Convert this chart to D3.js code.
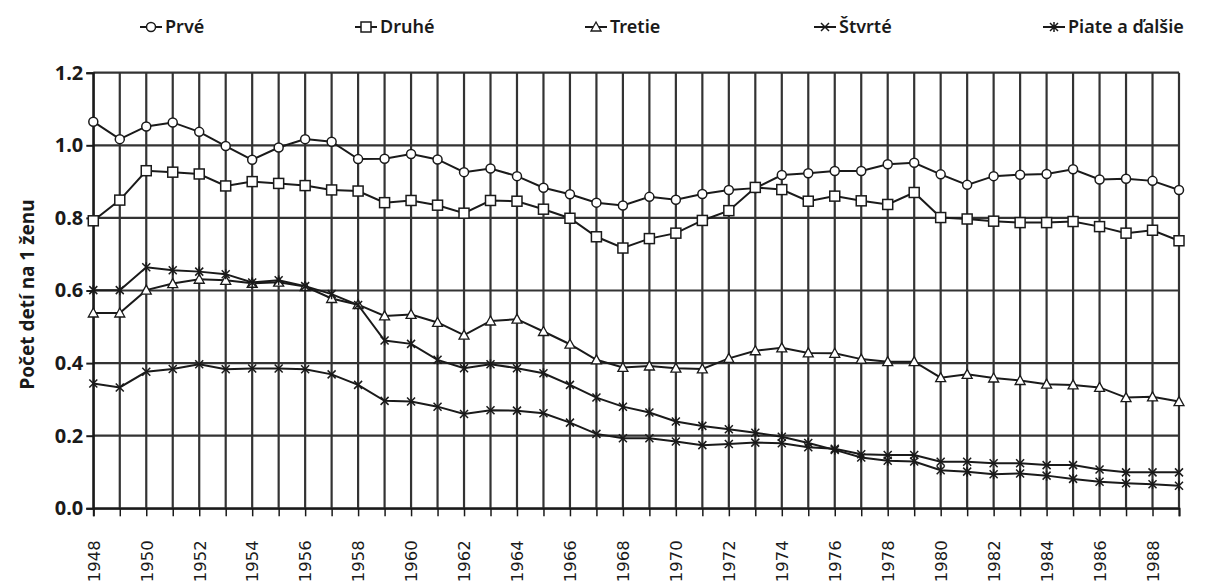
<!DOCTYPE html>
<html lang="sk">
<head>
<meta charset="UTF-8">
<title>Počet detí na 1 ženu</title>
<script src="https://cdn.jsdelivr.net/npm/d3@7/dist/d3.min.js"></script>
<style>
  body { margin: 0; background: #fff; }
  text { font-family: "Noto Sans", "DejaVu Sans", sans-serif; fill: #1a1a1a; }
</style>
</head>
<body>
<div id="chart"></div>
<script>
// roky a hodnoty (odčítané z grafu)
var years = [1948,1949,1950,1951,1952,1953,1954,1955,1956,1957,1958,1959,
             1960,1961,1962,1963,1964,1965,1966,1967,1968,1969,
             1970,1971,1972,1973,1974,1975,1976,1977,1978,1979,
             1980,1981,1982,1983,1984,1985,1986,1987,1988,1989];
var prve = [1.065,1.017,1.052,1.063,1.037,0.998,0.960,0.994,1.017,1.010,0.962,0.963,
            0.976,0.961,0.926,0.936,0.915,0.883,0.865,0.842,0.834,0.858,
            0.850,0.866,0.877,0.882,0.918,0.923,0.929,0.929,0.948,0.952,
            0.920,0.891,0.915,0.919,0.921,0.934,0.906,0.908,0.902,0.877];
var druhe = [0.792,0.849,0.930,0.926,0.921,0.888,0.900,0.895,0.889,0.877,0.874,0.842,
             0.848,0.835,0.813,0.848,0.846,0.824,0.799,0.748,0.717,0.743,
             0.758,0.793,0.820,0.884,0.878,0.846,0.860,0.847,0.837,0.870,
             0.801,0.797,0.791,0.787,0.787,0.790,0.776,0.758,0.766,0.737];
var tretie = [0.538,0.538,0.601,0.619,0.631,0.628,0.620,0.623,0.611,0.578,0.561,0.530,
              0.534,0.512,0.477,0.516,0.521,0.487,0.452,0.409,0.388,0.392,
              0.386,0.384,0.413,0.434,0.442,0.428,0.427,0.411,0.404,0.404,
              0.360,0.369,0.359,0.352,0.342,0.340,0.333,0.305,0.307,0.294];
var stvrte = [0.344,0.333,0.376,0.384,0.397,0.383,0.385,0.385,0.383,0.369,0.340,0.296,
              0.294,0.280,0.260,0.270,0.269,0.262,0.236,0.205,0.193,0.193,
              0.184,0.174,0.177,0.181,0.179,0.168,0.164,0.149,0.147,0.147,
              0.128,0.128,0.124,0.124,0.119,0.119,0.107,0.099,0.099,0.099];
var piate = [0.601,0.601,0.664,0.656,0.652,0.645,0.622,0.628,0.612,0.590,0.560,0.462,
             0.453,0.409,0.386,0.397,0.386,0.372,0.340,0.305,0.280,0.264,
             0.239,0.227,0.218,0.208,0.197,0.180,0.161,0.140,0.131,0.129,
             0.105,0.101,0.094,0.096,0.090,0.081,0.073,0.069,0.066,0.062];
var seriesNames = ["Prvé","Druhé","Tretie","Štvrté","Piate a ďalšie"];
var yTicks = [0, 0.2, 0.4, 0.6, 0.8, 1.0, 1.2];
var yTitle = "Počet detí na 1 ženu";

var series = [
  {name: seriesNames[0], values: prve,   marker: "circle"},
  {name: seriesNames[1], values: druhe,  marker: "square"},
  {name: seriesNames[2], values: tretie, marker: "triangle"},
  {name: seriesNames[3], values: stvrte, marker: "cross"},
  {name: seriesNames[4], values: piate,  marker: "star"}
];

var width = 1218, height = 588;
var svg = d3.select("#chart").append("svg").attr("width", width).attr("height", height);

var x = d3.scaleLinear().domain([1948, 1989]).range([93.3, 1179]);
var y = d3.scaleLinear().domain([0, 1.2]).range([508.3, 72.7]);

var ink = "#1a1a1a";

// mriežka
svg.append("g").selectAll("line").data(years).enter().append("line")
   .attr("x1", function(d){ return x(d); }).attr("x2", function(d){ return x(d); })
   .attr("y1", y(1.2)).attr("y2", y(0))
   .attr("stroke", "#333").attr("stroke-width", 2.2);
svg.append("g").selectAll("line").data(yTicks).enter().append("line")
   .attr("x1", x(1948)).attr("x2", x(1989))
   .attr("y1", function(d){ return y(d); }).attr("y2", function(d){ return y(d); })
   .attr("stroke", "#333").attr("stroke-width", 2.2);

// osi
var xAxis = d3.axisBottom(x).tickValues(years).tickSize(8)
   .tickFormat(function(d){ return d % 2 === 0 ? d : ""; });
var gx = svg.append("g").attr("transform", "translate(0," + y(0) + ")").call(xAxis);
gx.select(".domain").attr("stroke", ink).attr("stroke-width", 2);
gx.selectAll(".tick line").attr("stroke", ink).attr("stroke-width", 1.5);
gx.selectAll(".tick text")
   .attr("transform", "rotate(-90)")
   .attr("text-anchor", "end")
   .attr("x", -32).attr("y", 0).attr("dy", "0.35em")
   .style("font-family", "'DejaVu Sans', sans-serif")
   .style("font-size", "16.5px").attr("fill", ink);

var yAxis = d3.axisLeft(y).tickValues(yTicks).tickSize(7).tickFormat(d3.format(".1f"));
var gy = svg.append("g").attr("transform", "translate(" + x(1948) + ",0)").call(yAxis);
gy.select(".domain").attr("stroke", ink).attr("stroke-width", 2);
gy.selectAll(".tick line").attr("stroke", ink).attr("stroke-width", 2);
gy.selectAll(".tick text").attr("x", -10)
   .style("font-size", "20px").style("font-weight", "bold").attr("fill", "#333");

svg.append("text")
   .attr("transform", "translate(27," + ((y(1.0) + y(0.2)) / 2 + 4) + ") rotate(-90)")
   .attr("text-anchor", "middle").attr("dy", "0.35em")
   .style("font-size", "19px").style("font-weight", "bold")
   .text(yTitle);

// značky
function drawMarker(g, type) {
  if (type === "circle") {
    g.append("circle").attr("r", 4.5).attr("fill", "#fff").attr("stroke", ink).attr("stroke-width", 1.5);
  } else if (type === "square") {
    g.append("rect").attr("x", -5).attr("y", -5).attr("width", 10).attr("height", 10)
     .attr("fill", "#fff").attr("stroke", ink).attr("stroke-width", 1.5);
  } else if (type === "triangle") {
    g.append("path").attr("d", "M0,-5L5,4L-5,4Z")
     .attr("fill", "#fff").attr("stroke", ink).attr("stroke-width", 1.3);
  } else if (type === "cross") {
    g.append("path").attr("d", "M-4,-4L4,4M-4,4L4,-4")
     .attr("stroke", ink).attr("stroke-width", 1.5);
  } else {
    g.append("path").attr("d", "M-4,-4L4,4M-4,4L4,-4M0,-5L0,5")
     .attr("stroke", ink).attr("stroke-width", 1.5);
  }
}

var line = d3.line().x(function(d){ return x(d.year); }).y(function(d){ return y(d.value); });

series.forEach(function(s) {
  var pts = years.map(function(yr, i){ return {year: yr, value: s.values[i]}; });
  svg.append("path").datum(pts).attr("d", line)
     .attr("fill", "none").attr("stroke", ink).attr("stroke-width", 2);
  svg.append("g").selectAll("g").data(pts).enter().append("g")
     .attr("transform", function(d){ return "translate(" + x(d.year) + "," + y(d.value) + ")"; })
     .each(function(){ drawMarker(d3.select(this), s.marker); });
});

// legenda
var legendX = [140, 355, 585, 814, 1043];
var legend = svg.append("g").selectAll("g").data(series).enter().append("g")
   .attr("transform", function(d, i){ return "translate(" + legendX[i] + ",27)"; });
legend.append("line").attr("x1", 0).attr("x2", 22).attr("stroke", ink).attr("stroke-width", 2);
legend.append("g").attr("transform", "translate(11,0)")
   .each(function(d){ drawMarker(d3.select(this), d.marker); });
legend.append("text").attr("x", 25).attr("dy", "0.35em")
   .style("font-size", "18px").style("font-weight", "600").text(function(d){ return d.name; });
</script>
</body>
</html>
